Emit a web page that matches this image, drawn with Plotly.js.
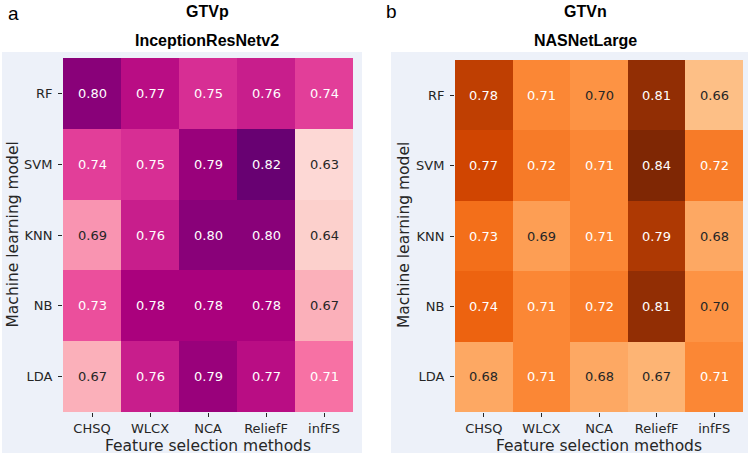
<!DOCTYPE html>
<html>
<head>
<meta charset="utf-8">
<script src="https://cdn.plot.ly/plotly-3.0.1.min.js"></script>
<style>html,body{margin:0;padding:0;background:#fff;}#chart{width:749px;height:456px;}</style>
</head>
<body>
<div id="chart"></div>
<script>
const methods = ["CHSQ", "WLCX", "NCA", "ReliefF", "infFS"];
const models = ["RF", "SVM", "KNN", "NB", "LDA"];
const gtvpValues = [
  [0.80, 0.77, 0.75, 0.76, 0.74],
  [0.74, 0.75, 0.79, 0.82, 0.63],
  [0.69, 0.76, 0.80, 0.80, 0.64],
  [0.73, 0.78, 0.78, 0.78, 0.67],
  [0.67, 0.76, 0.79, 0.77, 0.71]
];
const gtvnValues = [
  [0.78, 0.71, 0.70, 0.81, 0.66],
  [0.77, 0.72, 0.71, 0.84, 0.72],
  [0.73, 0.69, 0.71, 0.79, 0.68],
  [0.74, 0.71, 0.72, 0.81, 0.70],
  [0.68, 0.71, 0.68, 0.67, 0.71]
];
const panelLetters = ["a", "b"];
const panelTitles = ["GTVp", "GTVn"];
const panelSubtitles = ["InceptionResNetv2", "NASNetLarge"];

const W = 749, H = 456;
const px = x => x / W;
const py = y => 1 - y / H;

const rdpu = ["#fff7f3","#fde0dd","#fcc5c0","#fa9fb5","#f768a1","#dd3497","#ae017e","#7a0177","#49006a"];
const oranges = ["#fff5eb","#fee6ce","#fdd0a2","#fdae6b","#fd8d3c","#f16913","#d94801","#a63603","#7f2704"];
const scale = cols => cols.map((c, i) => [i / (cols.length - 1), c]);

const base = "DejaVu Sans, sans-serif";
const dark = "#262626";

const traces = [
  {type: "heatmap", x: methods, y: models, z: gtvpValues, xaxis: "x", yaxis: "y",
   colorscale: scale(rdpu), zmin: 0.59, zmax: 0.84, showscale: false, hoverinfo: "none"},
  {type: "heatmap", x: methods, y: models, z: gtvnValues, xaxis: "x2", yaxis: "y2",
   colorscale: scale(oranges), zmin: 0.585, zmax: 0.825, showscale: false, hoverinfo: "none"}
];

const annotations = [];
function addCellLabels(vals, xa, ya, darkBelow) {
  vals.forEach((row, i) => row.forEach((v, j) => {
    annotations.push({x: methods[j], y: models[i], xref: xa, yref: ya, text: v.toFixed(2),
      showarrow: false, font: {family: base, size: 13, color: v < darkBelow ? dark : "#ffffff"}});
  }));
}
addCellLabels(gtvpValues, "x", "y", 0.70);
addCellLabels(gtvnValues, "x2", "y2", 0.705);

const titleFont = {family: "Liberation Sans, Arial, sans-serif", size: 16, color: "#000"};
const letterFont = {family: "Liberation Sans, Arial, sans-serif", size: 19, color: "#000"};
const txt = (x, y, text, font, extra) => annotations.push(Object.assign({x: px(x), y: py(y), xref: "paper", yref: "paper",
  text, showarrow: false, font, xanchor: "center", yanchor: "middle"}, extra || {}));

txt(14, 14, panelLetters[0], letterFont);
txt(391, 12, panelLetters[1], letterFont);
txt(207, 12, "<b>" + panelTitles[0] + "</b>", titleFont);
txt(585, 12, "<b>" + panelTitles[1] + "</b>", titleFont);
txt(207, 40, "<b>" + panelSubtitles[0] + "</b>", titleFont);
txt(585, 40, "<b>" + panelSubtitles[1] + "</b>", titleFont);
const axTitleFont = {family: base, size: 15.5, color: dark};
txt(208, 446, "Feature selection methods", Object.assign({}, axTitleFont), {borderpad: 0});
txt(599, 446, "Feature selection methods", Object.assign({}, axTitleFont), {borderpad: 0});
txt(12.5, 235, "Machine learning model", axTitleFont, {textangle: -90});
txt(404, 235, "Machine learning model", axTitleFont, {textangle: -90});

const tickFont = {family: base, size: 13, color: dark};
const xax = d => ({domain: d, showgrid: false, zeroline: false, showline: false, ticks: "outside", ticklen: 4,
  tickwidth: 1, tickcolor: dark, tickfont: tickFont, fixedrange: true, ticklabelstandoff: 0});
const yax = d => ({domain: d, autorange: "reversed", showgrid: false, zeroline: false, showline: false,
  ticks: "outside", ticklen: 4, tickwidth: 1, tickcolor: dark, tickfont: tickFont, fixedrange: true, ticklabelstandoff: 3});

const layout = {
  width: W, height: H,
  margin: {l: 0, r: 0, t: 0, b: 0},
  paper_bgcolor: "#ffffff", plot_bgcolor: "rgba(0,0,0,0)",
  showlegend: false,
  xaxis: Object.assign(xax([px(63), px(353)]), {anchor: "y"}),
  yaxis: Object.assign(yax([py(412), py(58)]), {anchor: "x"}),
  xaxis2: Object.assign(xax([px(455), px(743)]), {anchor: "y2"}),
  yaxis2: Object.assign(yax([py(412), py(60)]), {anchor: "x2"}),
  shapes: [
    {type: "rect", xref: "paper", yref: "paper", x0: px(2), x1: px(362), y0: py(453), y1: py(52),
     fillcolor: "#edf1f9", line: {width: 0}, layer: "below"},
    {type: "rect", xref: "paper", yref: "paper", x0: px(391), x1: px(748), y0: py(453), y1: py(52),
     fillcolor: "#edf1f9", line: {width: 0}, layer: "below"}
  ],
  annotations
};

Plotly.newPlot("chart", traces, layout, {displayModeBar: false, staticPlot: true});
</script>
</body>
</html>
